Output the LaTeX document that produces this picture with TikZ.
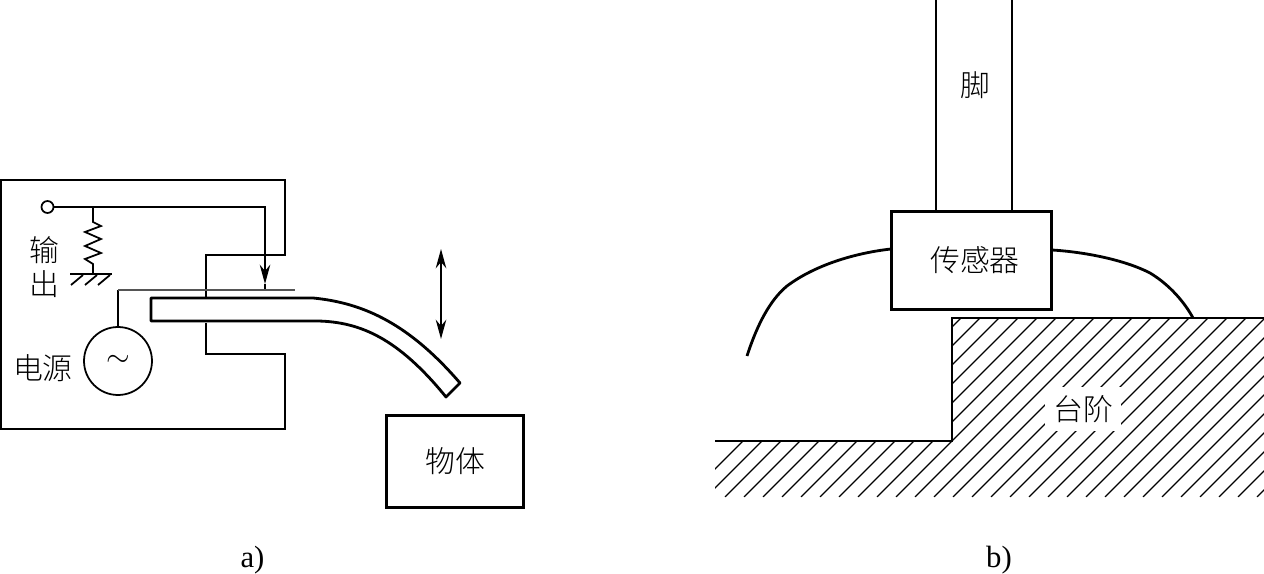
\documentclass[tikz,border=0pt]{standalone}
\usepackage{fontspec}
\usepackage{xcolor}
\usepackage{tikz}
\usetikzlibrary{arrows.meta,positioning}
\newfontfamily\cjk{Noto Sans CJK SC Light}
\newfontfamily\capfont{Liberation Serif}
\definecolor{probeline}{HTML}{555555}
\tikzset{
  lbl/.style={inner sep=1pt, font=\cjk\fontsize{17}{20}\selectfont},
  caplbl/.style={inner sep=0pt, font=\capfont\fontsize{17.5}{20}\selectfont},
  wire/.style={line width=1pt, black},
  heavy/.style={line width=1.6pt, black},
  hatchline/.style={line width=0.75pt, black},
  outarrow/.style={-{Stealth[length=11pt,width=6pt]}},
}

\begin{document}
\begin{tikzpicture}[x=0.02cm, y=-0.02cm]
  \useasboundingbox (0,0) rectangle (1264,574);

  % part a): sensor frame
  \draw[wire] (206,297) -- (206,255) -- (285,255) -- (285,180) -- (1,180) -- (1,429) -- (285,429) -- (285,354) -- (206,354) -- (206,323);

  % output side
  \node[draw, circle, wire, minimum size=0.24cm, inner sep=0pt] (term) at (47.5,207) {};
  \coordinate (tap) at (93,207);
  \coordinate (arrowend) at (265,284);
  \coordinate (contact) at (265,290);
  \coordinate (gnd) at (93,274);
  \draw[wire] (term) -- (tap);
  \draw[wire, outarrow] (tap) -| (arrowend);
  \draw[hatchline] (arrowend) -- (contact);
  \draw[wire] (tap) -- (93,222) -- (101,226) -- (85,232) -- (101,239) -- (85,246) -- (101,253) -- (85,259) -- (93,264) -- (gnd);
  \draw[heavy] (70,274) -- (112,274);
  \foreach \x in {83,97,110}
    \draw[wire] (\x,275) -- ++(-12,10);
  \node[lbl] (shu) at (44,250) {输};
  \node[lbl] (chu) at (44,284) {出};

  % source
  \node[draw, circle, wire, minimum size=1.36cm, inner sep=0pt, font=\LARGE] (src) at (118,361) {$\sim$};
  \node[lbl] (dianyuan) at (43,368) {电源};
  \coordinate (probeleft) at (118,290);
  \coordinate (proberight) at (295,290);
  \draw[wire] (src) -- (probeleft);
  \draw[hatchline, probeline] (probeleft) -- (proberight);

  % bent cantilever
  \draw[heavy, line join=round] (151,298) -- (313,298) .. controls (365,303) and (410,325) .. (460,383) -- (446,397) .. controls (398,338) and (360,322) .. (318,321) -- (151,321) -- cycle;
  \coordinate (movetop) at (441,249);
  \coordinate (movebot) at (441,339);
  \draw[wire, {Stealth[length=11pt,width=6pt]}-{Stealth[length=11pt,width=6pt]}] (movetop) -- (movebot);

  \node[draw, line width=1.9pt, minimum width=2.74cm, minimum height=1.84cm, lbl] (obj) at (455,461.5) {物体};
  \node[caplbl] (capa) at (252.5,560) {a)};

  % part b): leg and sensor
  \node[draw, heavy, minimum width=3.2cm, minimum height=1.96cm, lbl] (sensor) at (971.5,260.5) {\hspace*{4pt}传感器};
  \coordinate (legl) at (936,0);
  \coordinate (legr) at (1012,0);
  \draw[heavy] (legl) -- (legl |- sensor.north);
  \draw[heavy] (legr) -- (legr |- sensor.north);
  \node[lbl] (foot) at (975,85) {脚};

  \coordinate (arcl) at (891,249);
  \coordinate (arcr) at (1052,250);
  \coordinate (footl) at (747,356);
  \coordinate (footr) at (1193,318);
  \draw[heavy] (arcl) .. controls (855,253) and (815,265) .. (787,286) .. controls (770,300) and (757,325) .. (footl);
  \draw[heavy] (arcr) .. controls (1085,252) and (1125,260) .. (1150,273) .. controls (1170,285) and (1185,303) .. (footr);

  % stair with hatching
  \begin{scope}
    \clip (715,441) -- (952,441) -- (952,318) -- (1264,318) -- (1264,497) -- (715,497) -- cycle;
    \foreach \k in {1184,1203,...,1761}
      \draw[hatchline] ({\k-497},497) -- ({\k-300},300);
  \end{scope}
  \draw[heavy] (715,441) -- (952,441) -- (952,318) -- (1264,318);
  \node[lbl, fill=white, inner sep=4.5pt] (stair) at (1083,409) {台阶};
  \node[caplbl] (capb) at (999,560) {b)};
\end{tikzpicture}
\end{document}
